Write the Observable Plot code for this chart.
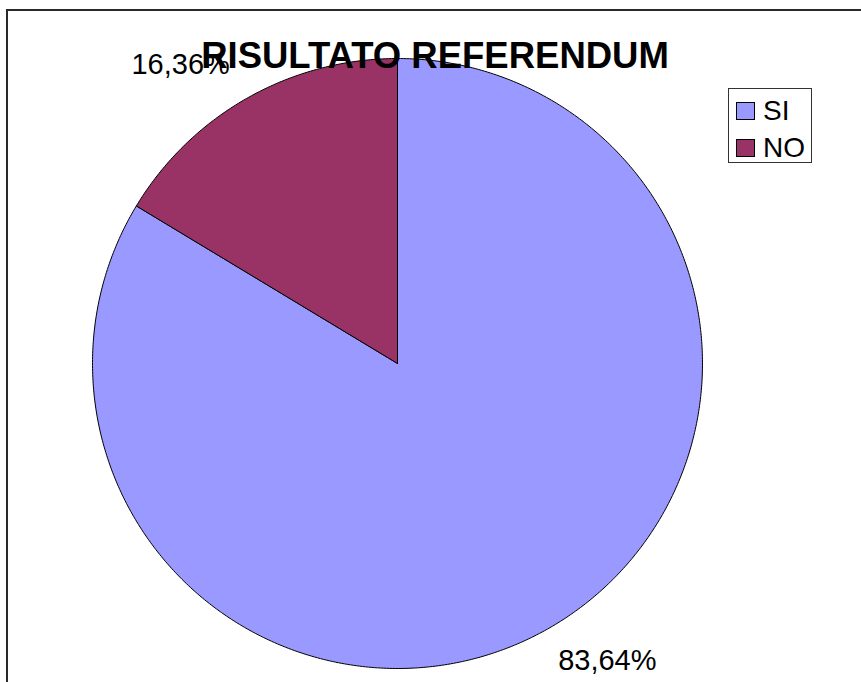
<!DOCTYPE html>
<html>
<head>
<meta charset="utf-8">
<script src="https://cdn.jsdelivr.net/npm/d3@7"></script>
<script src="https://cdn.jsdelivr.net/npm/@observablehq/plot@0.6"></script>
<style>
  html, body { margin: 0; padding: 0; background: #fff; }
  #wrap { position: relative; width: 861px; height: 682px; overflow: hidden; font-family: "Liberation Sans", Arial, sans-serif; }
  #border { position: absolute; left: 6px; top: 9px; width: 900px; height: 700px; border-left: 2px solid #2a2a2a; border-top: 2px solid #2a2a2a; box-sizing: border-box; pointer-events: none; }
  #legend { position: absolute; left: 728px; top: 88px; width: 84px; height: 75px; border: 1px solid #333; box-sizing: border-box; background: #fff; }
  .item { position: absolute; left: 7px; height: 22px; display: flex; align-items: center; font-size: 28px; line-height: 22px; color: #000; }
  .sw { width: 19px; height: 18px; border: 1px solid #000; box-sizing: border-box; margin-right: 8px; flex: none; }
  svg { position: absolute; left: 0; top: 0; }
</style>
</head>
<body>
<div id="wrap">
  <div id="border"></div>
  <div id="chart"></div>
  <div id="legend"></div>
</div>
<script>
const title = "RISULTATO REFERENDUM";
const categories = ["SI", "NO"];
const values = [83.64, 16.36];
const valueLabels = ["83,64%", "16,36%"];
const colors = ["#9999FF", "#993366"];

const data = categories.map((c, i) => ({category: c, value: values[i], label: valueLabels[i]}));
const arcs = d3.pie().sort(null).value(d => d.value)(data);

// polygon outline of each slice, in unit-radius coordinates (y up)
const outline = [];
arcs.forEach(a => {
  const n = Math.max(2, Math.ceil((a.endAngle - a.startAngle) / 0.01));
  outline.push({category: a.data.category, x: 0, y: 0});
  for (let k = 0; k <= n; k++) {
    const t = a.startAngle + (a.endAngle - a.startAngle) * k / n;
    outline.push({category: a.data.category, x: Math.sin(t), y: Math.cos(t)});
  }
  outline.push({category: a.data.category, x: 0, y: 0});
});

const labelPts = arcs.map(a => {
  const m = (a.startAngle + a.endAngle) / 2;
  return {category: a.data.category, label: a.data.label, x: 1.206 * Math.sin(m), y: 1.206 * Math.cos(m)};
});

const W = 861, H = 682, cx = 397, cy = 363, R = 305;

const chart = Plot.plot({
  width: W,
  height: H,
  margin: 0,
  x: {domain: [-cx / R, (W - cx) / R], range: [0, W], axis: null},
  y: {domain: [-(H - cy) / R, cy / R], range: [H, 0], axis: null},
  color: {domain: categories, range: colors},
  style: {fontFamily: "'Liberation Sans', Arial, sans-serif", background: "transparent"},
  marks: [
    Plot.line(outline, {x: "x", y: "y", z: "category", fill: "category", stroke: "#000", strokeWidth: 1, strokeLinejoin: "round"}),
    Plot.text(labelPts.filter(d => d.category === "NO"), {x: "x", y: "y", text: "label", fontSize: 29, fill: "#000", dx: -36, dy: 22}),
    Plot.text(labelPts.filter(d => d.category === "SI"), {x: "x", y: "y", text: "label", fontSize: 29, fill: "#000", dx: 29, dy: -23}),
    Plot.text([title], {frameAnchor: "top", text: d => d, fontSize: 36.5, fontWeight: "bold", fill: "#000", dx: 4, dy: 42})
  ]
});
document.getElementById("chart").appendChild(chart);

const legend = document.getElementById("legend");
categories.forEach((c, i) => {
  const item = document.createElement("div");
  item.className = "item";
  item.style.top = (i === 0 ? 11 : 48) + "px";
  const sw = document.createElement("div");
  sw.className = "sw";
  sw.style.background = colors[i];
  item.appendChild(sw);
  const t = document.createElement("span");
  t.textContent = c;
  item.appendChild(t);
  legend.appendChild(item);
});
</script>
</body>
</html>
